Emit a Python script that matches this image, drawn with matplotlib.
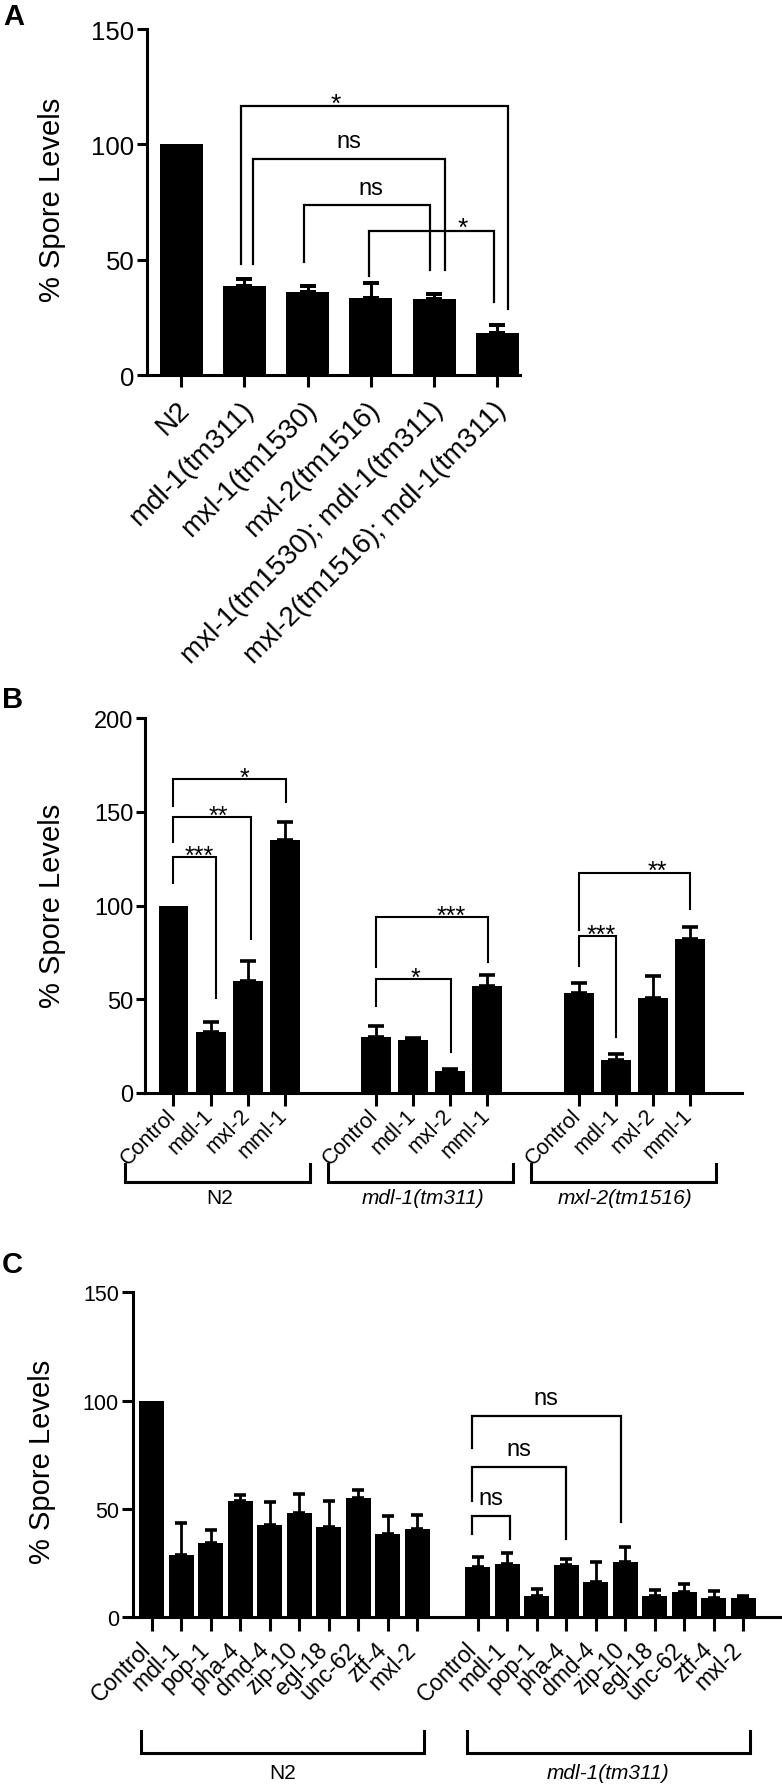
import numpy as np
import matplotlib
matplotlib.use("Agg")
import matplotlib.pyplot as plt
import matplotlib.transforms as mtransforms

plt.rcParams['font.family'] = ['Liberation Sans', 'DejaVu Sans']

# ---- panel A data
a_labels = ['N2', 'mdl-1(tm311)', 'mxl-1(tm1530)', 'mxl-2(tm1516)',
            'mxl-1(tm1530); mdl-1(tm311)', 'mxl-2(tm1516); mdl-1(tm311)']
a_means = [100, 38.7, 36.0, 33.5, 33.0, 18.3]
a_err = [0, 3.0, 2.7, 6.5, 2.2, 3.4]
# (left bar, right bar, top, left leg end, right leg end, label)
a_sig = [(1, 5, 116.5, 48, 28.7, '*'),
         (1, 4, 93.5, 48, 45.6, 'ns'),
         (2, 4, 73.5, 49, 45.6, 'ns'),
         (3, 5, 62.6, 43, 31.7, '*')]
a_sig_dx = [(-0.05, 0.17), (0.13, 0.17), (-0.06, -0.06), (-0.03, -0.05)]
a_sig_textx = [2.45, 2.66, 3.0, 4.45]

# ---- panel B data
b_genes = ['Control', 'mdl-1', 'mxl-2', 'mml-1']
b_strains = ['N2', 'mdl-1(tm311)', 'mxl-2(tm1516)']
b_means = [100, 32.4, 59.6, 135.0,
           29.8, 28.2, 11.7, 57.0,
           53.2, 17.6, 50.5, 82.4]
b_err = [0, 5.4, 10.6, 9.7,
         5.8, 1.1, 1.1, 5.8,
         5.3, 3.1, 11.7, 5.9]
b_sig = [(0, 3, 167.6, 153, 155, '*'),
         (0, 2, 147.3, 134, 82, '**'),
         (0, 1, 126, 112, 50.5, '***'),
         (4, 7, 94, 67, 69.7, '***'),
         (4, 6, 60.6, 46.3, 21.8, '*'),
         (8, 11, 117.6, 87, 98.4, '**'),
         (8, 9, 83.5, 68, 29.8, '***')]
b_sig_dx = [(0, 0.05), (0, 0.1), (0, 0.15), (0, 0.02), (0, 0.02), (0, 0), (0, 0)]
b_sig_textx = [1.93, 1.22, 0.69, 7.5, 6.53, 13.08, 11.57]

# ---- panel C data
c_genes = ['Control', 'mdl-1', 'pop-1', 'pha-4', 'dmd-4', 'zip-10',
           'egl-18', 'unc-62', 'ztf-4', 'mxl-2']
c_strains = ['N2', 'mdl-1(tm311)']
c_means = [100, 28.7, 34.3, 53.8, 42.6, 48.0, 41.6, 55.0, 38.3, 40.9,
           23.4, 24.6, 10.0, 24.1, 16.5, 25.7, 10.0, 11.7, 9.0, 8.7]
c_err = [0, 14.6, 6.1, 2.8, 10.4, 9.1, 12.2, 3.8, 8.5, 6.2,
         4.5, 5.0, 3.2, 3.0, 8.9, 6.9, 2.5, 3.7, 3.2, 1.2]
c_sig = [(10, 15, 93.1, 78.0, 43.8, 'ns'),
         (10, 13, 69.3, 53.8, 36.3, 'ns'),
         (10, 11, 46.6, 38.3, 36.3, 'ns')]
c_sig_dx = [(-0.2, -0.15), (-0.2, 0.0), (-0.2, 0.1)]

W, H = 782, 1790
fig = plt.figure(figsize=(W / 100, H / 100), dpi=100)


def box(l, r, t, b):
    return [l / W, 1 - b / H, (r - l) / W, (b - t) / H]


def style(ax, lw, ylen, xlen):
    for s in ['top', 'right']:
        ax.spines[s].set_visible(False)
    for s in ['left', 'bottom']:
        ax.spines[s].set_linewidth(lw)
    ax.tick_params(axis='y', width=lw, length=ylen)
    ax.tick_params(axis='x', width=lw, length=xlen, labelbottom=False)


def draw_bars(ax, x, means, err, width, capsize, lw):
    ax.bar(x, means, width, color='black', zorder=3)
    x = np.asarray(x)
    err = np.asarray(err)
    m = err > 0
    ax.errorbar(x[m], np.asarray(means)[m], yerr=[np.zeros(m.sum()), err[m]],
                fmt='none', ecolor='black', elinewidth=lw, capsize=capsize,
                capthick=lw * 1.3, zorder=2)


def bracket(ax, x1, x2, top, y1, y2, text, tx, lw, fs, off):
    ax.plot([x1, x1, x2, x2], [y1, top, top, y2], color='black', lw=lw,
            clip_on=False, solid_joinstyle='miter', zorder=4)
    ax.annotate(text, (tx, top), xytext=(0, off),
                textcoords='offset points', ha='center', va='bottom',
                fontsize=fs)


def xlabels(ax, xs, labels, fs, dx_px, dy_px):
    # rotated labels: baseline end placed dx right / dy below the axis line
    tr = ax.get_xaxis_transform() + mtransforms.ScaledTranslation(
        dx_px / 100, -dy_px / 100, fig.dpi_scale_trans)
    for x, lab in zip(xs, labels):
        ax.text(x, 0, lab, transform=tr, rotation=45, rotation_mode='anchor',
                ha='right', va='baseline', fontsize=fs)


# ================= panel A
axA = fig.add_axes(box(147, 520, 30, 376))
xa = np.arange(len(a_labels))
draw_bars(axA, xa, a_means, a_err, 0.68, 5.8, 2.2)
axA.set_ylim(0, 150)
axA.set_xlim(-0.54, 5.36)
axA.set_yticks([0, 50, 100, 150])
axA.set_xticks(xa)
style(axA, 2.2, 7, 8.5)
axA.tick_params(axis='y', labelsize=18.5, pad=2)
xlabels(axA, xa, a_labels, 20, 10, 35)
for (i, j, top, y1, y2, txt), (d1, d2), tx in zip(a_sig, a_sig_dx, a_sig_textx):
    bracket(axA, xa[i] + d1, xa[j] + d2, top, y1, y2, txt, tx, 1.6,
            19 if txt == '*' else 17, -7 if txt == '*' else 5)
fig.text(52 / W, 1 - 200 / H, '% Spore Levels', rotation=90, ha='center',
         va='center', fontsize=21)
fig.text(3 / W, 1 - 17 / H, 'A', ha='left', va='center', fontsize=21,
         fontweight='bold')

# ================= panel B
axB = fig.add_axes(box(145, 742, 719, 1094))
group_gap_b = 5.48
xb = np.concatenate([np.arange(len(b_genes)) + g * group_gap_b
                     for g in range(len(b_strains))])
draw_bars(axB, xb, b_means, b_err, 0.81, 5.8, 2.0)
axB.set_ylim(0, 200)
axB.set_xlim(-0.77, 15.36)
axB.set_yticks([0, 50, 100, 150, 200])
axB.set_xticks(xb)
style(axB, 2.2, 6.5, 9.5)
axB.tick_params(axis='y', labelsize=17, pad=2)
xlabels(axB, xb, b_genes * len(b_strains), 15.5, 3, 23)
for (i, j, top, y1, y2, txt), (d1, d2), tx in zip(b_sig, b_sig_dx, b_sig_textx):
    bracket(axB, xb[i] + d1, xb[j] + d2, top, y1, y2, txt, tx, 1.5, 18, -7.7)
trB = axB.get_xaxis_transform()
for g, strain in enumerate(b_strains):
    s = g * group_gap_b
    axB.plot([s - 1.3, s - 1.3, s + 3.7, s + 3.7],
             [-0.189, -0.237, -0.237, -0.189], transform=trB,
             color='black', lw=2.2, clip_on=False, solid_joinstyle='miter')
    axB.text(s + 1.25, -0.28, strain, transform=trB, ha='center',
             va='center', fontsize=15,
             style='normal' if strain == 'N2' else 'italic')
fig.text(52 / W, 1 - 906 / H, '% Spore Levels', rotation=90, ha='center',
         va='center', fontsize=21)
fig.text(2 / W, 1 - 700 / H, 'B', ha='left', va='center', fontsize=21,
         fontweight='bold')

# ================= panel C
axC = fig.add_axes(box(132.7, 780, 1293.3, 1618.3))
group_gap_c = 11.05
xc = np.concatenate([np.arange(len(c_genes)) + g * group_gap_c
                     for g in range(len(c_strains))])
draw_bars(axC, xc, c_means, c_err, 0.85, 4.3, 2.0)
axC.set_ylim(0, 150)
axC.set_xlim(-0.64, 21.3)
axC.set_yticks([0, 50, 100, 150])
axC.set_xticks(xc)
style(axC, 2.2, 8, 10)
axC.tick_params(axis='y', labelsize=15.5, pad=2)
xlabels(axC, xc, c_genes * len(c_strains), 16.5, 0, 33)
for (i, j, top, y1, y2, txt), (d1, d2) in zip(c_sig, c_sig_dx):
    x1, x2 = xc[i] + d1, xc[j] + d2
    bracket(axC, x1, x2, top, y1, y2, txt, (x1 + x2) / 2, 1.6, 17, 5)
trC = axC.get_xaxis_transform()
for g, strain in enumerate(c_strains):
    s = g * group_gap_c
    axC.plot([s - 0.35, s - 0.35, s + 9.22, s + 9.22],
             [-0.35, -0.418, -0.418, -0.35], transform=trC,
             color='black', lw=2.2, clip_on=False, solid_joinstyle='miter')
    axC.text(s + 4.43, -0.477, strain, transform=trC, ha='center',
             va='center', fontsize=15,
             style='normal' if strain == 'N2' else 'italic')
fig.text(42 / W, 1 - 1462 / H, '% Spore Levels', rotation=90, ha='center',
         va='center', fontsize=21)
fig.text(2 / W, 1 - 1265 / H, 'C', ha='left', va='center', fontsize=21,
         fontweight='bold')

fig.savefig('out.png', dpi=100)
